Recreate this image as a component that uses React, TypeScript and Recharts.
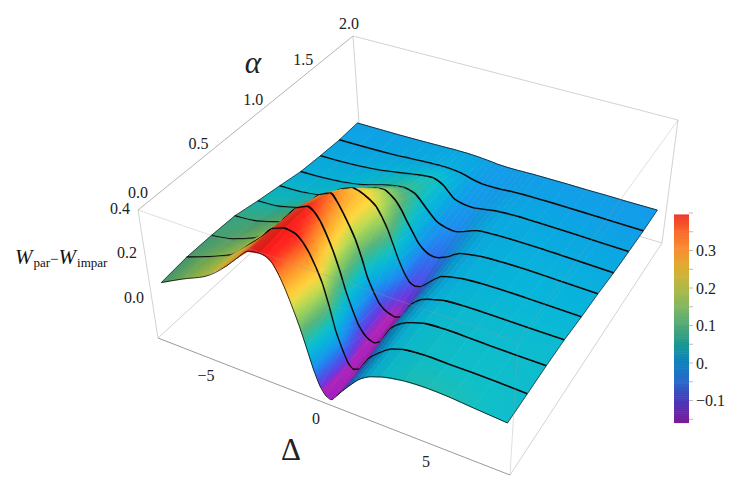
import { ScatterChart, Scatter, XAxis, YAxis } from "recharts";

// Rows of the surface: alpha = 0, 2/9, ... 2
const ALPHAS = [0, 2 / 9, 4 / 9, 6 / 9, 8 / 9, 10 / 9, 12 / 9, 14 / 9, 16 / 9, 2];
const DELTAS = [-7.5, -6.5, -5.5, -4.5, -4, -3.5, -3, -2.75, -2.5, -2.25, -2, -1.75, -1.5, -1.25, -1, -0.75, -0.5, -0.25, 0, 0.25, 0.5, 0.75, 1, 1.25, 1.5, 2, 3, 4, 5, 6, 7.5];

const W0 = [0.09, 0.145, 0.195, 0.28, 0.335, 0.385, 0.395, 0.39, 0.37, 0.325, 0.265, 0.195, 0.12, 0.035, -0.05, -0.115, -0.15, -0.158, -0.13, -0.1, -0.072, -0.045, -0.02, -0.002, 0.012, 0.03, 0.05, 0.056, 0.053, 0.045, 0.035];
const W1 = [0.096, 0.135, 0.18, 0.27, 0.32, 0.375, 0.395, 0.393, 0.385, 0.36, 0.32, 0.265, 0.2, 0.105, 0, -0.07, -0.125, -0.145, -0.135, -0.1, -0.065, -0.042, -0.022, -0.003, 0.012, 0.028, 0.038, 0.037, 0.037, 0.036, 0.032];
const W2 = [0.09, 0.11, 0.15, 0.24, 0.3, 0.36, 0.385, 0.37, 0.335, 0.28, 0.215, 0.135, 0.045, -0.025, -0.085, -0.12, -0.138, -0.143, -0.13, -0.09, -0.05, -0.027, -0.01, 0.003, 0.012, 0.027, 0.034, 0.033, 0.031, 0.03, 0.03];
const W3 = [0.08, 0.09, 0.12, 0.2, 0.26, 0.315, 0.34, 0.31, 0.265, 0.215, 0.16, 0.085, 0, -0.055, -0.1, -0.122, -0.133, -0.138, -0.13, -0.095, -0.055, -0.032, -0.015, -0.005, 0.002, 0.015, 0.022, 0.023, 0.023, 0.023, 0.024];
const W4 = [0.051, 0.058, 0.085, 0.15, 0.2, 0.24, 0.26, 0.256, 0.245, 0.23, 0.21, 0.17, 0.12, 0.055, -0.01, -0.06, -0.095, -0.105, -0.1, -0.082, -0.06, -0.038, -0.02, -0.012, -0.006, 0.003, 0.01, 0.012, 0.012, 0.011, 0.01];
const W5 = [0.026, 0.03, 0.045, 0.085, 0.115, 0.14, 0.16, 0.166, 0.167, 0.152, 0.13, 0.095, 0.05, 0.01, -0.03, -0.055, -0.07, -0.075, -0.072, -0.062, -0.05, -0.033, -0.02, -0.014, -0.01, -0.002, 0.003, 0.005, 0.004, 0.002, 0];
const W6 = [0, 0.004, 0.013, 0.03, 0.045, 0.06, 0.072, 0.076, 0.078, 0.074, 0.065, 0.042, 0.015, -0.01, -0.033, -0.044, -0.05, -0.054, -0.053, -0.045, -0.035, -0.025, -0.017, -0.014, -0.012, -0.01, -0.008, -0.008, -0.01, -0.012, -0.015];
const W7 = [-0.014, -0.012, -0.006, 0.005, 0.014, 0.022, 0.032, 0.036, 0.04, 0.043, 0.044, 0.036, 0.022, -0.002, -0.025, -0.033, -0.038, -0.04, -0.04, -0.036, -0.032, -0.028, -0.024, -0.022, -0.02, -0.018, -0.018, -0.019, -0.02, -0.022, -0.024];
const W8 = [-0.025, -0.024, -0.022, -0.018, -0.014, -0.011, -0.008, -0.007, -0.006, -0.006, -0.007, -0.009, -0.012, -0.018, -0.025, -0.03, -0.034, -0.035, -0.035, -0.035, -0.034, -0.032, -0.03, -0.029, -0.028, -0.027, -0.027, -0.028, -0.029, -0.03, -0.032];
const W9 = [-0.027, -0.027, -0.027, -0.026, -0.025, -0.024, -0.023, -0.022, -0.022, -0.022, -0.022, -0.023, -0.024, -0.026, -0.028, -0.03, -0.033, -0.034, -0.035, -0.035, -0.035, -0.034, -0.034, -0.033, -0.033, -0.033, -0.033, -0.034, -0.034, -0.035, -0.035];
const ROWS = [W0, W1, W2, W3, W4, W5, W6, W7, W8, W9];

const DELTA_TICKS = [-5, 0, 5];
const ALPHA_TICKS = [0, 0.5, 1, 1.5, 2];
const ALPHA_TICK_LABELS = ["0.0", "0.5", "1.0", "1.5", "2.0"];
const W_TICKS = [0.4, 0.2, 0];
const W_TICK_LABELS = ["0.4", "0.2", "0.0"];
const BAR_TICKS = [0.3, 0.2, 0.1, 0, -0.1];
const BAR_TICK_LABELS = ["0.3", "0.2", "0.1", "0.", "\u22120.1"];

const SURFACE_STOPS: [number, string][] = [
  [-0.16, "#a01cc4"], [-0.135, "#b024b8"], [-0.115, "#6a38e0"], [-0.08, "#3468ee"], [-0.05, "#1c90f0"],
  [-0.02, "#0aa8e2"], [0.01, "#08b6da"], [0.04, "#10c0c8"], [0.07, "#30bc9c"], [0.1, "#58b47c"],
  [0.14, "#84c864"], [0.19, "#c4dc50"], [0.23, "#ffd840"], [0.28, "#ffb030"], [0.33, "#ff7c28"], [0.38, "#ff2c20"], [0.4, "#ff1818"],
];
const BAR_STOPS: [number, string][] = [
  [-0.16, "#7c1a98"], [-0.1, "#4838b8"], [-0.05, "#2868c8"], [0, "#1080c0"], [0.05, "#189890"], [0.1, "#50a878"],
  [0.15, "#80b860"], [0.2, "#b0b848"], [0.25, "#d8b030"], [0.3, "#f89030"], [0.35, "#f86a2c"], [0.4, "#f03028"],
];

const hex = (c: string) => [1, 3, 5].map((i) => parseInt(c.slice(i, i + 2), 16));
function colorAt(stops: [number, string][], v: number, light = 1) {
  let i = 0;
  while (i < stops.length - 2 && v > stops[i + 1][0]) i++;
  const t = Math.max(0, Math.min(1, (v - stops[i][0]) / (stops[i + 1][0] - stops[i][0])));
  const a = hex(stops[i][1]);
  const b = hex(stops[i + 1][1]);
  return `rgb(${a.map((p, k) => Math.round((p + (b[k] - p) * t) * light)).join(",")})`;
}

// pixel corners of the 3D frame: [alpha edge][delta edge]
const FRAME_BASE = [[158, 338], [510, 475], [361, 152], [662, 243]];
const FRAME_TOP = [[138, 210], [518, 342], [353, 36], [678, 120]];
// same frame with the back side nudged so the surface falls where it does in the figure
const SURF_BASE = [[158, 338], [510, 475], [348, 152], [658, 243]];
const SURF_TOP = [[138, 210], [518, 342], [342, 33], [674, 120]];

const mix = (a: number, b: number, t: number) => a + (b - a) * t;
function project(d: number, alpha: number, w: number) {
  const u = (d + 8.05) / 15.79;
  const a = alpha / 2;
  const f = (a * 1.2) / (1 + 0.2 * a);
  const h = (w + 0.185) / 0.585;
  const corner = (c: number[][], k: number) => mix(mix(c[0][k], c[1][k], u), mix(c[2][k], c[3][k], u), f);
  return {
    x: mix(corner(SURF_BASE, 0), corner(SURF_TOP, 0), h),
    y: mix(corner(SURF_BASE, 1), corner(SURF_TOP, 1), h),
  };
}

const rowLine = (r: number) => DELTAS.map((d, c) => project(d, ALPHAS[r], ROWS[r][c]));
const colLine = (c: number) => ALPHAS.map((a, r) => project(DELTAS[c], a, ROWS[r][c]));

// slide p towards q by a fixed number of pixels
function nudge(p: { x: number; y: number }, q: { x: number; y: number }, px: number) {
  const len = Math.hypot(q.x - p.x, q.y - p.y) || 1;
  return { x: p.x + ((q.x - p.x) / len) * px, y: p.y + ((q.y - p.y) / len) * px };
}

// slope around a column, taken over a few columns so the shading has no stripes
function slopeAt(r: number, c: number) {
  const a = Math.max(0, c - 2);
  const b = Math.min(DELTAS.length - 1, c + 3);
  return (ROWS[r][b] - ROWS[r][a]) / (DELTAS[b] - DELTAS[a]);
}

// quads between row hi (back) and hi-1 (front), far to near
// back edge pulled in and front edge pushed out by 1px, the black row line covers the overlap
function strip(hi: number) {
  const lo = hi - 1;
  const back = hi < 9 ? 1 : 0;
  const front = lo > 0 ? -1 : 0;
  const cells = [];
  for (let c = 0; c < DELTAS.length - 1; c++) {
    const fl0 = project(DELTAS[c], ALPHAS[lo], ROWS[lo][c]);
    const fr0 = project(DELTAS[c + 1], ALPHAS[lo], ROWS[lo][c + 1]);
    const bl0 = project(DELTAS[c], ALPHAS[hi], ROWS[hi][c]);
    const br0 = project(DELTAS[c + 1], ALPHAS[hi], ROWS[hi][c + 1]);
    const bl = nudge(bl0, fl0, back);
    const br = nudge(br0, fr0, back);
    const fl = nudge(fl0, bl0, front);
    const fr = nudge(fr0, br0, front);
    const slope = (slopeAt(lo, c) + slopeAt(hi, c)) / 2;
    cells.push({
      x: bl.x,
      y: bl.y,
      id: `q${hi}-${c}`,
      pts: [bl, br, fr, fl],
      zs: [ROWS[hi][c], ROWS[hi][c + 1], ROWS[lo][c + 1], ROWS[lo][c]],
      light: 1 - Math.min(0.3, 2.6 * Math.max(0, slope)),
    });
  }
  return cells;
}

function Quad(props: any) {
  const { pts, zs, light, id } = props.payload;
  const mx = pts.reduce((s: number, p: any) => s + p.x, 0) / 4;
  const my = pts.reduce((s: number, p: any) => s + p.y, 0) / 4;
  const mz = zs.reduce((s: number, z: number) => s + z, 0) / 4;
  // plane through the corners, gives the direction of the colour bands on screen
  let sxx = 0, sxy = 0, syy = 0, sxz = 0, syz = 0;
  pts.forEach((p: any, i: number) => {
    const dx = p.x - mx, dy = p.y - my, dz = zs[i] - mz;
    sxx += dx * dx; sxy += dx * dy; syy += dy * dy; sxz += dx * dz; syz += dy * dz;
  });
  const det = sxx * syy - sxy * sxy || 1;
  const gx = (syy * sxz - sxy * syz) / det;
  const gy = (sxx * syz - sxy * sxz) / det;
  const g2 = gx * gx + gy * gy || 1e-9;
  const zMin = Math.min(...zs);
  const zMax = Math.max(...zs);
  const line = pts.map((p: any) => `${p.x},${p.y}`).join(" ");
  const fill = `url(#${id})`;
  return (
    <g>
      <defs>
        <linearGradient
          id={id}
          gradientUnits="userSpaceOnUse"
          x1={mx + (gx * (zMin - mz)) / g2}
          y1={my + (gy * (zMin - mz)) / g2}
          x2={mx + (gx * (zMax - mz)) / g2}
          y2={my + (gy * (zMax - mz)) / g2}
        >
          {[0, 0.2, 0.4, 0.6, 0.8, 1].map((t) => (
            <stop key={t} offset={t} stopColor={colorAt(SURFACE_STOPS, mix(zMin, zMax, t), light)} />
          ))}
        </linearGradient>
      </defs>
      <polygon points={line} fill={fill} stroke={fill} strokeWidth={0.7} />
    </g>
  );
}

const Nothing = () => <g />;

function Label(props: any) {
  const { cx, cy, payload } = props;
  return (
    <text
      x={cx}
      y={cy}
      textAnchor={payload.anchor ?? "middle"}
      dominantBaseline="central"
      fontFamily="'Liberation Serif', serif"
      fontSize={payload.size ?? 16}
      fontStyle={payload.italic ? "italic" : "normal"}
      fill="#222"
    >
      {payload.label}
    </text>
  );
}

function AxisTitleW(props: any) {
  const { cx, cy } = props;
  const font = "'Liberation Serif', serif";
  return (
    <text x={cx} y={cy} fontFamily={font} fontSize={21} fill="#111">
      <tspan fontStyle="italic">W</tspan>
      <tspan fontSize={13} dx={1} dy={3}>par</tspan>
      <tspan fontSize={15} dy={-3}>{"\u2212"}</tspan>
      <tspan fontStyle="italic">W</tspan>
      <tspan fontSize={13} dx={1} dy={3}>impar</tspan>
    </text>
  );
}

function BarCell(props: any) {
  const { cx, cy, payload } = props;
  return <rect x={cx} y={cy - 1.2} width={15} height={2.4} fill={colorAt(BAR_STOPS, payload.v)} />;
}

function BarTick(props: any) {
  const { cx, cy } = props;
  return <line x1={cx} x2={cx + 4} y1={cy} y2={cy} stroke="#bbb" strokeWidth={1} />;
}

const frameEdge = (a: number[], b: number[]) => [
  { x: a[0], y: a[1] },
  { x: b[0], y: b[1] },
];

const BACK_EDGES = [
  frameEdge(FRAME_BASE[0], FRAME_BASE[2]),
  frameEdge(FRAME_BASE[2], FRAME_BASE[3]),
  frameEdge(FRAME_TOP[2], FRAME_BASE[2]),
  frameEdge(FRAME_TOP[2], FRAME_TOP[3]),
  frameEdge(FRAME_TOP[3], FRAME_BASE[3]),
  frameEdge(FRAME_BASE[3], FRAME_BASE[1]),
  frameEdge(FRAME_TOP[0], FRAME_BASE[0]),
];
const SIDE_EDGE = frameEdge(FRAME_TOP[0], FRAME_TOP[2]);
const BOTTOM_EDGE = frameEdge(FRAME_BASE[0], FRAME_BASE[1]);
const FRONT_EDGES = [
  frameEdge(FRAME_TOP[0], FRAME_TOP[1]),
  frameEdge(FRAME_TOP[1], FRAME_TOP[3]),
  frameEdge(FRAME_TOP[1], FRAME_BASE[1]),
];

const deltaLabels = DELTA_TICKS.map((d) => {
  const u = (d + 8) / 16;
  return { x: mix(158, 510, u) - 18, y: mix(338, 475, u) + 12, label: d < 0 ? `\u2212${-d}` : `${d}` };
});
const alphaLabels = ALPHA_TICKS.map((a, i) => {
  const n = a / 2;
  const f = (n * 1.2) / (1 + 0.2 * n);
  return { x: mix(138, 353, f) - a * 2, y: mix(210, 36, f) - 18 + a * 2.5, label: ALPHA_TICK_LABELS[i] };
});
// these follow the slanted left edge of the frame
const wLabels = W_TICKS.map((w, i) => ({ x: 134 - (w / 0.2) * 7, y: 297 - (w / 0.2) * 44.5, label: W_TICK_LABELS[i] }));
const barLabels = BAR_TICKS.map((v, i) => ({ x: 696, y: 363 - v * 375, label: BAR_TICK_LABELS[i], anchor: "start" }));
const barCells = Array.from({ length: 111 }, (_, i) => {
  const v = -0.157 + i * 0.005;
  return { x: 674, y: 363 - v * 375, v };
});
const barTicks = Array.from({ length: 12 }, (_, i) => {
  const v = -0.15 + i * 0.05;
  return { x: 689, y: 363 - v * 375 };
}).filter((t) => t.y > 212);

const titles = [
  { x: 291, y: 449, label: "\u0394", size: 31 },
  { x: 253, y: 62, label: "\u03b1", size: 31, italic: true },
];

const rowOrder = [9, 8, 7, 6, 5, 4, 3, 2, 1];
const edgeLine = (w: number, color: string) => ({ stroke: color, strokeWidth: w });

export default function App() {
  return (
    <div style={{ position: "absolute", left: 0, top: 0, background: "#fff" }}>
      <ScatterChart width={737} height={488} margin={{ top: 0, right: 0, bottom: 0, left: 0 }}>
        <XAxis type="number" dataKey="x" domain={[0, 737]} hide allowDataOverflow />
        <YAxis type="number" dataKey="y" domain={[0, 488]} reversed hide allowDataOverflow />

        {BACK_EDGES.map((e, i) => (
          <Scatter key={`be${i}`} data={e} shape={Nothing} line={edgeLine(1, "#d2d2d2")} lineType="joint" isAnimationActive={false} />
        ))}
        <Scatter data={SIDE_EDGE} shape={Nothing} line={edgeLine(1, "#b4b4b4")} lineType="joint" isAnimationActive={false} />
        <Scatter data={BOTTOM_EDGE} shape={Nothing} line={edgeLine(1, "#9a9a9a")} lineType="joint" isAnimationActive={false} />

        {rowOrder.map((hi) => [
          <Scatter key={`s${hi}`} data={strip(hi)} shape={Quad} isAnimationActive={false} />,
          <Scatter
            key={`l${hi - 1}`}
            data={rowLine(hi - 1)}
            shape={Nothing}
            line={edgeLine(hi === 1 ? 0.8 : 2.1, "#0a0a0a")}
            lineType="joint"
            lineJointType="monotoneX"
            isAnimationActive={false}
          />,
        ])}
        <Scatter data={rowLine(9)} shape={Nothing} line={edgeLine(0.8, "#111")} lineType="joint" lineJointType="monotoneX" isAnimationActive={false} />
        <Scatter data={colLine(0)} shape={Nothing} line={edgeLine(0.7, "#222")} lineType="joint" isAnimationActive={false} />
        <Scatter data={colLine(DELTAS.length - 1)} shape={Nothing} line={edgeLine(0.7, "#222")} lineType="joint" isAnimationActive={false} />

        {FRONT_EDGES.map((e, i) => (
          <Scatter key={`fe${i}`} data={e} shape={Nothing} line={{ stroke: "#999", strokeWidth: 0.8, strokeOpacity: 0.4 }} lineType="joint" isAnimationActive={false} />
        ))}

        <Scatter data={barCells} shape={BarCell} isAnimationActive={false} />
        <Scatter data={barTicks} shape={BarTick} isAnimationActive={false} />
        <Scatter data={deltaLabels} shape={Label} isAnimationActive={false} />
        <Scatter data={alphaLabels} shape={Label} isAnimationActive={false} />
        <Scatter data={wLabels} shape={Label} isAnimationActive={false} />
        <Scatter data={barLabels} shape={Label} isAnimationActive={false} />
        <Scatter data={titles} shape={Label} isAnimationActive={false} />
        <Scatter data={[{ x: 15, y: 264 }]} shape={AxisTitleW} isAnimationActive={false} />
      </ScatterChart>
    </div>
  );
}
